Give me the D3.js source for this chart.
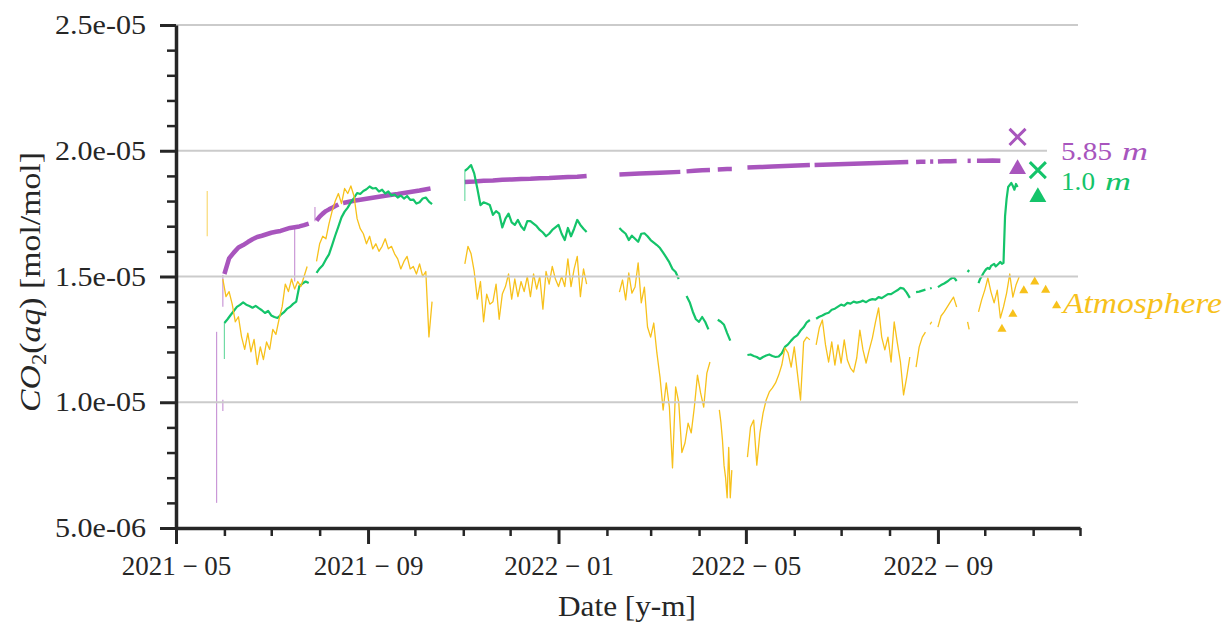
<!DOCTYPE html>
<html>
<head>
<meta charset="utf-8">
<script src="https://cdn.jsdelivr.net/npm/d3@7"></script>
<style>
  body { margin: 0; background: #fff; }
  svg { display: block; }
  text { font-family: "Liberation Serif", "Times New Roman", serif; fill: #262626; }
</style>
</head>
<body>
<svg id="chart" width="1227" height="623"></svg>
<script>
// Dissolved CO2 mole fraction; all readings below are in µmol/mol.
const UNIT = 1e-6;

// Each segment: [first day, sampling step in days, readings]
const depth585Segments = [
  ["2021-06-01", 3, [15.10, 15.72, 15.95, 16.15, 16.25, 16.37, 16.48, 16.57, 16.62, 16.68, 16.74, 16.78, 16.81, 16.87, 16.93, 16.96, 16.99, 17.04, 17.10]],
  ["2021-07-30", 2, [17.22, 17.38, 17.50, 17.60, 17.67, 17.73, 17.80, 17.86]],
  ["2021-08-16", 7, [17.92, 18.01, 18.08, 18.15, 18.22, 18.28, 18.35, 18.42, 18.50]],
  ["2021-11-02", 6, [18.76, 18.78, 18.81, 18.82, 18.85, 18.86, 18.88, 18.89, 18.91, 18.92, 18.94, 18.96, 18.97, 19.00]],
  ["2022-02-09", 13, [19.06, 19.10, 19.13, 19.16]],
  ["2022-03-24", 5, [19.18, 19.20, 19.22, 19.23]],
  ["2022-04-13", 3, [19.25, 19.26, 19.27, 19.27]],
  ["2022-05-02", 8, [19.33, 19.35, 19.37, 19.39, 19.41, 19.43]],
  ["2022-06-14", 10, [19.43, 19.45, 19.47, 19.49, 19.51, 19.53, 19.55]],
  ["2022-08-18", 3, [19.55, 19.56, 19.56]],
  ["2022-08-27", 2, [19.57, 19.57]],
  ["2022-09-01", 4, [19.57, 19.58, 19.58, 19.59]],
  ["2022-09-20", 2, [19.60, 19.60]],
  ["2022-09-26", 5, [19.60, 19.60, 19.61, 19.60]]
];

const depth10Segments = [
  ["2021-06-01", 2, [13.15, 13.30, 13.47, 13.63, 13.79, 13.87, 13.97, 13.88, 13.83, 13.76, 13.83, 13.74, 13.66, 13.55, 13.63, 13.45, 13.39, 13.35, 13.47, 13.57, 13.71, 13.79, 13.91, 14.00, 14.62, 14.72, 14.80, 14.74]],
  ["2021-07-30", 2, [15.14, 15.32, 15.45, 15.68, 15.88, 16.25, 16.63, 16.98, 17.35, 17.58, 17.74, 17.95, 18.12, 18.32, 18.28, 18.40, 18.47, 18.58, 18.50, 18.52, 18.38, 18.45, 18.30, 18.38, 18.22, 18.26, 18.14, 18.22, 18.10, 18.20, 18.05, 18.06, 17.90, 17.95, 18.10, 18.14, 17.98, 17.88]],
  ["2021-11-02", 2, [19.20, 19.30, 19.43, 19.10, 18.50, 17.84, 17.95, 17.90, 17.84, 17.45, 17.60, 17.50, 16.95, 17.30, 17.50, 17.15, 17.05, 17.25, 17.00, 16.85, 17.20, 17.20, 17.10, 17.00, 16.85, 16.75, 16.60, 16.70, 16.85, 16.95, 17.05, 16.70, 16.45, 16.93, 16.60, 16.90, 17.25, 17.05, 16.90, 16.77]],
  ["2022-02-09", 2, [16.93, 16.80, 16.70, 16.45, 16.62, 16.50, 16.38, 16.70, 16.72, 16.60, 16.45, 16.35, 16.25, 16.13, 15.95, 15.76, 15.56, 15.30, 15.18, 14.90]],
  ["2022-03-24", 2, [14.22, 13.98, 13.60, 13.30, 13.20, 13.39, 13.19, 12.90]],
  ["2022-04-13", 2, [13.28, 13.20, 13.08, 12.75, 12.45]],
  ["2022-05-02", 2, [11.88, 11.90, 11.84, 11.80, 11.72, 11.80, 11.86, 11.90, 11.84, 11.80, 11.82, 11.95, 12.20, 12.30, 12.45, 12.58, 12.67, 12.85, 12.98, 13.18, 13.27]],
  ["2022-06-15", 2, [13.32, 13.40, 13.45, 13.52, 13.56, 13.68, 13.72, 13.80, 13.88, 13.84, 13.95, 13.92, 14.00, 13.96, 13.99, 14.04, 13.98, 14.06, 14.10, 14.08, 14.18, 14.14, 14.22, 14.30, 14.30, 14.38, 14.45, 14.55, 14.52, 14.36, 14.15]],
  ["2022-08-18", 2, [14.38, 14.40, 14.44, 14.48]],
  ["2022-08-27", 1, [14.52, 14.54]],
  ["2022-09-01", 2, [14.58, 14.66, 14.72, 14.80, 14.90, 14.98, 14.82]],
  ["2022-09-20", 1, [15.18, 15.26]],
  ["2022-09-27", 1, [14.74, 14.90, 15.00, 15.12, 15.22, 15.30, 15.34, 15.30, 15.42, 15.46, 15.50, 15.40, 15.46, 15.52, 15.58, 15.50, 15.54, 17.40, 18.10, 18.56, 18.64, 18.72, 18.60, 18.45, 18.68, 18.56]]
];

const atmosphereSegments = [
  ["2021-05-31", 2, [14.90, 14.20, 14.40, 13.90, 13.20, 13.40, 12.60, 12.10, 12.75, 12.00, 12.50, 11.50, 12.20, 11.70, 12.40, 12.10, 12.90, 12.70, 13.30, 13.80, 14.70, 14.40, 14.90, 14.50, 14.80, 14.60, 15.00, 15.40]],
  ["2021-07-30", 2, [15.60, 16.30, 16.60, 16.50, 17.10, 17.60, 18.00, 18.30, 17.90, 18.50, 18.30, 18.60, 18.20, 17.30, 16.90, 16.70, 16.30, 16.60, 16.10, 16.30, 16.00, 16.20, 16.50, 16.10, 16.20, 15.90, 15.70, 15.30, 15.60, 15.80, 15.30, 15.40, 15.10, 15.50, 15.00, 15.20, 12.60, 14.00]],
  ["2021-11-02", 2, [15.50, 16.20, 15.90, 15.20, 14.10, 14.80, 13.20, 14.30, 13.90, 14.00, 14.70, 13.30, 14.30, 14.60, 15.10, 14.10, 14.90, 14.20, 14.80, 14.40, 15.00, 14.20, 15.10, 14.50, 15.00, 13.70, 15.20, 14.70, 15.40, 14.90, 14.60, 15.00, 14.60, 15.70, 14.60, 15.30, 15.80, 14.20, 15.30, 14.70]],
  ["2022-02-09", 2, [14.38, 14.86, 14.07, 15.14, 14.34, 14.58, 15.54, 13.95, 14.58, 12.99, 12.59, 13.15, 11.96, 11.00, 9.69, 10.77, 9.81, 7.39, 10.61, 10.00, 8.00, 8.38, 9.17, 8.78, 9.81, 11.08, 10.37, 9.81, 11.16, 11.60]],
  ["2022-04-14", 1, [9.70, 9.20, 8.50, 7.50, 7.00, 6.20, 8.20, 6.20, 7.30]],
  ["2022-05-02", 2, [7.82, 9.02, 9.29, 7.50, 8.78, 9.57, 10.09, 10.41, 10.57, 10.77, 11.08, 11.48, 12.16, 11.96, 11.40, 12.20, 11.16, 10.09, 12.40, 12.59, 12.48]],
  ["2022-06-15", 2, [12.28, 12.95, 13.27, 12.28, 11.60, 12.40, 11.48, 12.28, 11.56, 12.48, 11.68, 11.36, 11.20, 11.76, 12.87, 12.08, 11.56, 12.08, 12.55, 13.19, 13.75, 12.59, 12.08, 12.59, 11.60, 13.19, 12.36, 11.60, 10.29, 11.00, 11.80]],
  ["2022-08-18", 2, [11.40, 12.20, 12.59, 12.79]],
  ["2022-08-27", 1, [13.10, 13.20]],
  ["2022-09-01", 2, [12.99, 13.43, 13.59, 13.79, 13.99, 14.18, 13.79]],
  ["2022-09-20", 1, [13.20, 12.90]],
  ["2022-09-27", 2, [13.59, 14.07, 14.46, 14.94, 14.38, 13.95, 14.46, 13.35, 13.79, 14.34, 15.10, 14.18, 14.66, 14.98]]
];

// Single-day excursions: [day, from, to]
const depth585Spikes = [
  ["2021-05-27", 12.80, 6.00],
  ["2021-05-31", 15.06, 13.80],
  ["2021-05-31", 10.10, 9.65],
  ["2021-07-16", 16.95, 14.80],
  ["2021-07-29", 17.76, 17.20]
];
const depth10Spikes = [
  ["2021-06-01", 11.72, 13.15],
  ["2021-11-02", 18.00, 19.20]
];
const atmosphereSpikes = [
  ["2021-05-21", 18.40, 16.60]
];

// Point samples
const depth585Cross = [["2022-10-22", 20.55]];
const depth585Triangle = [["2022-10-22", 19.27]];
const depth10Cross = [["2022-11-04", 19.23]];
const depth10Triangle = [["2022-11-04", 18.16]];
const atmosphereTriangles = [
  ["2022-10-12", 12.91], ["2022-10-19", 13.50], ["2022-10-26", 14.44],
  ["2022-11-02", 14.79], ["2022-11-09", 14.46], ["2022-11-16", 13.84]
];

const yMajorTicks = [5e-6, 1e-5, 1.5e-5, 2e-5, 2.5e-5];
const xMajorTicks = ["2021-05-01", "2021-09-01", "2022-01-01", "2022-05-01", "2022-09-01"];
const xDomain = ["2021-05-01", "2022-12-01"];

const colors = { deep: "#a855bd", shallow: "#14c46a", air: "#f7c11b" };

const parse = d3.utcParse("%Y-%m-%d");
const svg = d3.select("#chart");

const x = d3.scaleUtc().domain(xDomain.map(parse)).range([176, 1080]);
const y = d3.scaleLinear().domain([5e-6, 2.5e-5]).range([528, 25]);

function expand(segments) {
  return segments.map(([start, step, vals]) => {
    const t0 = parse(start);
    return vals.map((v, i) => ({ date: d3.utcDay.offset(t0, i * step), value: v * UNIT }));
  });
}
const line = d3.line().x(d => x(d.date)).y(d => y(d.value));

function sci(v) {
  const [m, e] = v.toExponential(1).split("e");
  const n = +e;
  return m + "e" + (n < 0 ? "-" : "+") + String(Math.abs(n)).padStart(2, "0");
}

const plot = svg.append("g");

function drawSpikes(spikes, color) {
  plot.append("g").selectAll("line").data(spikes).join("line")
    .attr("x1", d => x(parse(d[0]))).attr("x2", d => x(parse(d[0])))
    .attr("y1", d => y(d[1] * UNIT)).attr("y2", d => y(d[2] * UNIT))
    .attr("stroke", color).attr("stroke-width", 1.2).attr("opacity", 0.6);
}
function drawSeries(segments, color, width) {
  plot.append("g").selectAll("path").data(expand(segments)).join("path")
    .attr("d", line).attr("fill", "none").attr("stroke", color)
    .attr("stroke-width", width).attr("stroke-linejoin", "round");
}

drawSpikes(depth585Spikes, colors.deep);
drawSeries(depth585Segments, colors.deep, 4.5);
drawSpikes(depth10Spikes, colors.shallow);
drawSeries(depth10Segments, colors.shallow, 2.2);
drawSpikes(atmosphereSpikes, colors.air);
drawSeries(atmosphereSegments, colors.air, 1.3);

// horizontal grid
svg.append("g").selectAll("line").data(yMajorTicks.slice(1)).join("line")
  .attr("x1", 176).attr("x2", x.range()[1] - 2)
  .attr("y1", d => y(d)).attr("y2", d => y(d))
  .attr("stroke", "#cbcbcb").attr("stroke-width", 2);

// white box behind the 5.85 m label
svg.append("rect").attr("x", 1047).attr("y", 140).attr("width", 110).attr("height", 24).attr("fill", "#fff");

// markers
const cross = d3.symbol(d3.symbolX, 170);
const tri = d3.symbol(d3.symbolTriangle, 125);
const smallTri = d3.symbol(d3.symbolTriangle, 36);
function marks(data, gen, color, stroke) {
  svg.append("g").selectAll("path").data(data).join("path")
    .attr("transform", d => `translate(${x(parse(d[0]))},${y(d[1] * UNIT)})`)
    .attr("d", gen)
    .attr("fill", stroke ? "none" : color)
    .attr("stroke", stroke ? color : "none")
    .attr("stroke-width", stroke ? 3 : 0);
}
marks(depth585Cross, cross, colors.deep, true);
marks(depth585Triangle, tri, colors.deep, false);
marks(depth10Cross, cross, colors.shallow, true);
marks(depth10Triangle, tri, colors.shallow, false);
marks(atmosphereTriangles, smallTri, colors.air, false);

// axes
const yAxis = svg.append("g").attr("transform", "translate(176,0)")
  .call(d3.axisLeft(y).tickValues(yMajorTicks).tickSize(16).tickSizeOuter(0).tickPadding(14).tickFormat(sci));
const yMinor = d3.range(5, 26).filter(v => v % 5 !== 0).map(v => v * UNIT);
svg.append("g").attr("transform", "translate(176,0)")
  .call(d3.axisLeft(y).tickValues(yMinor).tickSize(9).tickFormat(""))
  .call(g => g.select(".domain").remove())
  .selectAll("line").attr("stroke", "#262626").attr("stroke-width", 2.5);

const xAxis = svg.append("g").attr("transform", "translate(0,528)")
  .call(d3.axisBottom(x).tickValues(xMajorTicks.map(parse)).tickSize(16).tickSizeOuter(0).tickPadding(12)
    .tickFormat(d => d3.utcFormat("%Y")(d) + "\u2005\u2212\u2005" + d3.utcFormat("%m")(d)));
const xMinor = d3.utcMonths(parse(xDomain[0]), d3.utcDay.offset(parse(xDomain[1]), 1))
  .filter(d => (d.getUTCMonth() - 4 + 12) % 4 !== 0);
svg.append("g").attr("transform", "translate(0,528)")
  .call(d3.axisBottom(x).tickValues(xMinor).tickSize(8).tickFormat(""))
  .call(g => g.select(".domain").remove())
  .selectAll("line").attr("stroke", "#262626").attr("stroke-width", 2.5);

[yAxis, xAxis].forEach(g => {
  g.select(".domain").attr("stroke", "#262626").attr("stroke-width", 3.5);
  g.selectAll(".tick line").attr("stroke", "#262626").attr("stroke-width", 3);
  g.selectAll(".tick text").attr("font-size", 27).attr("fill", "#262626");
});
yAxis.selectAll(".tick text").attr("textLength", 91).attr("lengthAdjust", "spacingAndGlyphs");

// axis titles
svg.append("text").attr("x", 627).attr("y", 616).attr("text-anchor", "middle")
  .attr("font-size", 30).attr("textLength", 138).attr("lengthAdjust", "spacingAndGlyphs")
  .text("Date [y-m]");

const yt = svg.append("text").attr("transform", "translate(40,282) rotate(-90)")
  .attr("text-anchor", "middle").attr("font-size", 30)
  .attr("textLength", 260).attr("lengthAdjust", "spacingAndGlyphs");
yt.append("tspan").attr("font-style", "italic").text("CO");
yt.append("tspan").attr("font-size", 20).attr("dy", 6).text("2");
yt.append("tspan").attr("dy", -6).text("(");
yt.append("tspan").attr("font-style", "italic").text("aq");
yt.append("tspan").text(") [mol/mol]");

// series labels: number in roman, unit in italic
function label(xp, yp, num, numWidth, unitX, color) {
  svg.append("text").attr("x", xp).attr("y", yp).attr("font-size", 26)
    .attr("textLength", numWidth).attr("lengthAdjust", "spacingAndGlyphs")
    .style("fill", color).text(num);
  svg.append("text").attr("x", unitX).attr("y", yp).attr("font-size", 26)
    .attr("font-style", "italic").attr("textLength", 26).attr("lengthAdjust", "spacingAndGlyphs")
    .style("fill", color).text("m");
}
label(1061, 160, "5.85", 51, 1122, colors.deep);
label(1061, 190, "1.0", 34, 1105, colors.shallow);
svg.append("text").attr("x", 1063).attr("y", 313).attr("font-size", 29).attr("font-style", "italic")
  .attr("textLength", 159).attr("lengthAdjust", "spacingAndGlyphs")
  .style("fill", colors.air).text("Atmosphere");
</script>
</body>
</html>
